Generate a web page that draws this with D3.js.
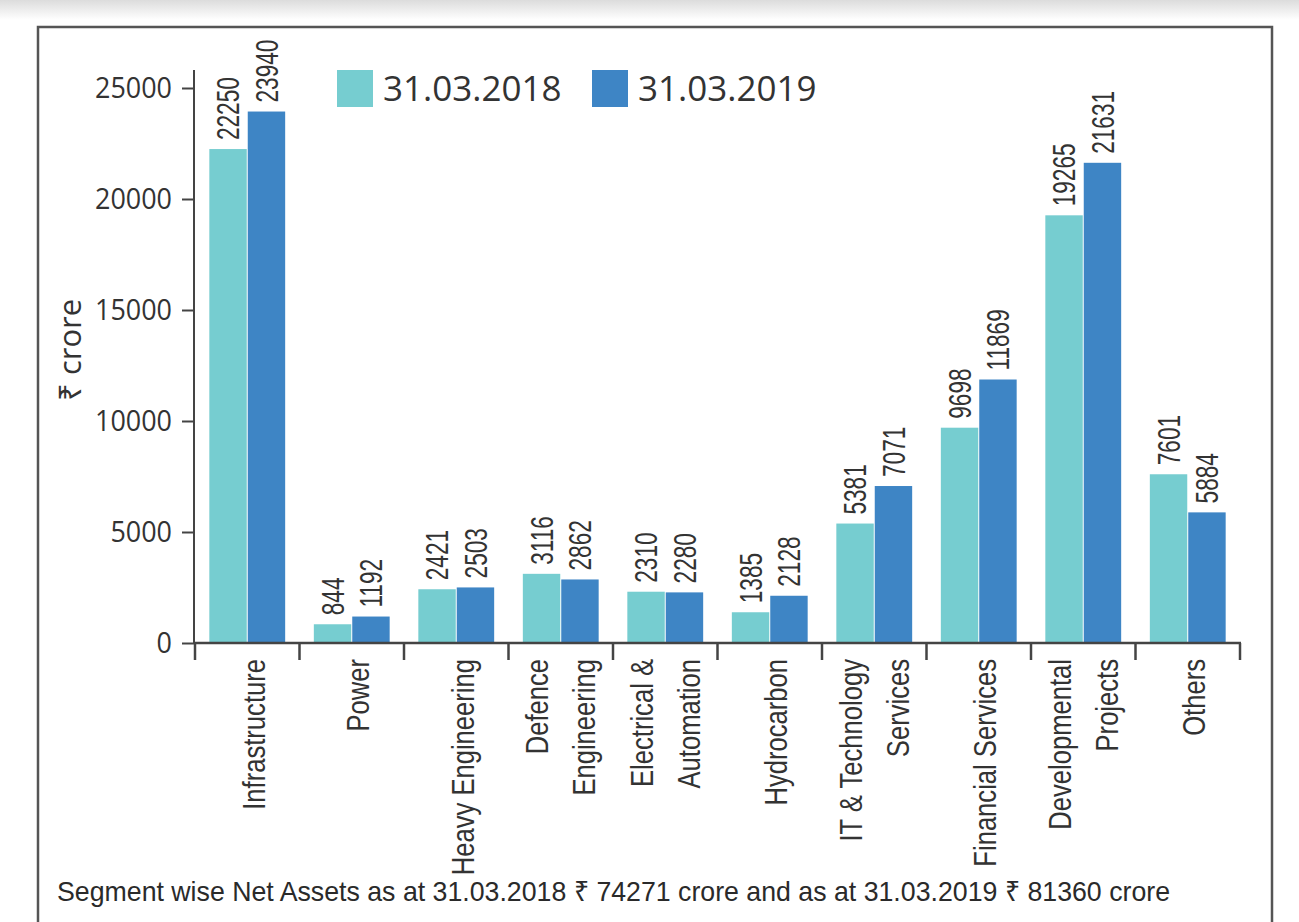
<!DOCTYPE html>
<html>
<head>
<meta charset="utf-8">
<script src="https://cdn.jsdelivr.net/npm/d3@7"></script>
<style>
  body { margin: 0; background: #fff; }
  svg { display: block; }
</style>
</head>
<body>
<svg id="chart" width="1299" height="922"></svg>
<script>
// Segment-wise net assets (₹ crore)
const categories = [
  "Infrastructure", "Power", "Heavy Engineering", "Defence\nEngineering",
  "Electrical &\nAutomation", "Hydrocarbon", "IT & Technology\nServices",
  "Financial Services", "Developmental\nProjects", "Others"
];
const seriesNames = ["31.03.2018", "31.03.2019"];
const values2018 = [22250, 844, 2421, 3116, 2310, 1385, 5381, 9698, 19265, 7601];
const values2019 = [23940, 1192, 2503, 2862, 2280, 2128, 7071, 11869, 21631, 5884];
const yTicks = [0, 5000, 10000, 15000, 20000, 25000];
const footnote = "Segment wise Net Assets as at 31.03.2018 \u20B9 74271 crore and as at 31.03.2019 \u20B9 81360 crore";

const colors = { "31.03.2018": "#76cdd0", "31.03.2019": "#3e85c5" };
const textColor = "#333";
const sans = "'Liberation Sans', Arial, sans-serif";
const narrowScale = 0.8;   // horizontal squeeze for the condensed label face

const svg = d3.select("#chart");

// page chrome: grey band at top and the framed panel
const defs = svg.append("defs");
const grad = defs.append("linearGradient").attr("id", "topband")
  .attr("x1", 0).attr("y1", 0).attr("x2", 0).attr("y2", 1);
grad.append("stop").attr("offset", "0%").attr("stop-color", "#dcdcdc");
grad.append("stop").attr("offset", "100%").attr("stop-color", "#ffffff");
svg.append("rect").attr("x", 0).attr("y", 0).attr("width", 1299).attr("height", 20)
  .attr("fill", "url(#topband)");
svg.append("rect").attr("x", 38).attr("y", 27).attr("width", 1234).attr("height", 940)
  .attr("fill", "none").attr("stroke", "#555").attr("stroke-width", 2.5);

// scales
const y = d3.scaleLinear().domain([0, 25000]).range([643, 88]);
const x0 = d3.scaleBand().domain(categories).range([195, 1240]).padding(0);
const x1 = d3.scaleBand().domain(seriesNames).range([0, x0.bandwidth()])
  .paddingInner(0).paddingOuter(0.36);

const rows = categories.map((c, i) => ({
  cat: c,
  items: [
    { s: seriesNames[0], v: values2018[i] },
    { s: seriesNames[1], v: values2019[i] }
  ]
}));

// bars
const groups = svg.append("g").selectAll("g").data(rows).join("g")
  .attr("transform", d => `translate(${x0(d.cat)},0)`);

groups.selectAll("rect").data(d => d.items).join("rect")
  .attr("x", d => x1(d.s) + 0.5)
  .attr("width", x1.bandwidth() - 1)
  .attr("y", d => y(d.v))
  .attr("height", d => y(0) - y(d.v))
  .attr("fill", d => colors[d.s]);

// value labels, rotated above each bar
groups.selectAll("text").data(d => d.items).join("text")
  .attr("transform", d => `translate(${x1(d.s) + x1.bandwidth() / 2},${y(d.v) - 9}) rotate(-90) scale(0.73,1)`)
  .attr("dy", "0.36em")
  .attr("text-anchor", "start")
  .attr("font-family", sans)
  .attr("font-size", 31)
  .attr("fill", textColor)
  .text(d => d.v);

// y axis
const yAxis = svg.append("g").attr("transform", "translate(194,0)")
  .call(d3.axisLeft(y).tickValues(yTicks).tickFormat(d3.format("d"))
    .tickSize(12).tickSizeOuter(0).tickPadding(10));
yAxis.select(".domain").remove();
yAxis.append("line").attr("x1", 0).attr("x2", 0).attr("y1", 70).attr("y2", y(0))
  .attr("stroke", "#444").attr("stroke-width", 2);
yAxis.selectAll(".tick line").attr("stroke", "#444").attr("stroke-width", 2);
yAxis.selectAll(".tick text")
  .attr("font-family", "'Open Sans', sans-serif")
  .attr("font-size", 30)
  .attr("fill", textColor)
  .attr("textLength", d => String(d).length * 15.4)
  .attr("lengthAdjust", "spacingAndGlyphs");

// y axis title
svg.append("text")
  .attr("transform", "translate(70,350) rotate(-90)")
  .attr("dy", "0.36em")
  .attr("text-anchor", "middle")
  .attr("font-family", "'Open Sans', sans-serif")
  .attr("font-size", 31)
  .attr("fill", textColor)
  .text("\u20B9 crore");

// x axis with ticks at category boundaries
const xAxis = svg.append("g");
xAxis.append("line").attr("x1", 194).attr("x2", x0.range()[1] + 1)
  .attr("y1", y(0)).attr("y2", y(0)).attr("stroke", "#444").attr("stroke-width", 2.5);
const boundaries = categories.map(c => x0(c)).concat([x0.range()[1]]);
xAxis.selectAll("line.tick").data(boundaries).join("line").attr("class", "tick")
  .attr("x1", d => d).attr("x2", d => d)
  .attr("y1", y(0)).attr("y2", y(0) + 17)
  .attr("stroke", "#444").attr("stroke-width", 2.5);

// category labels, rotated; two-line names are split into columns
const catLabels = xAxis.selectAll("text").data(categories).join("text")
  .attr("transform", d => `translate(${x0(d) + x0.bandwidth() / 2 + 6},${y(0) + 16}) rotate(-90) scale(${narrowScale},1)`)
  .attr("text-anchor", "end")
  .attr("font-family", sans)
  .attr("font-size", 32)
  .attr("fill", textColor);
catLabels.each(function (d) {
  const lines = d.split("\n");
  const t = d3.select(this);
  lines.forEach((ln, i) => {
    const off = lines.length === 1 ? 0 : (i === 0 ? -30 : 17);
    t.append("tspan").attr("x", 0).attr("y", off).attr("dy", "0.36em").text(ln);
  });
});

// legend
const legend = svg.append("g");
const legendPos = [337, 592];
seriesNames.forEach((s, i) => {
  legend.append("rect").attr("x", legendPos[i]).attr("y", 70)
    .attr("width", 36).attr("height", 37).attr("fill", colors[s]);
  legend.append("text").attr("x", legendPos[i] + 46).attr("y", 101)
    .attr("font-family", "'Open Sans', sans-serif")
    .attr("font-size", 35)
    .attr("fill", textColor)
    .text(s);
});

// footnote
svg.append("text")
  .attr("x", 57).attr("y", 901)
  .attr("font-family", sans)
  .attr("font-size", 28)
  .attr("fill", "#2a2a2a")
  .attr("textLength", 1113)
  .attr("lengthAdjust", "spacingAndGlyphs")
  .text(footnote);
</script>
</body>
</html>
